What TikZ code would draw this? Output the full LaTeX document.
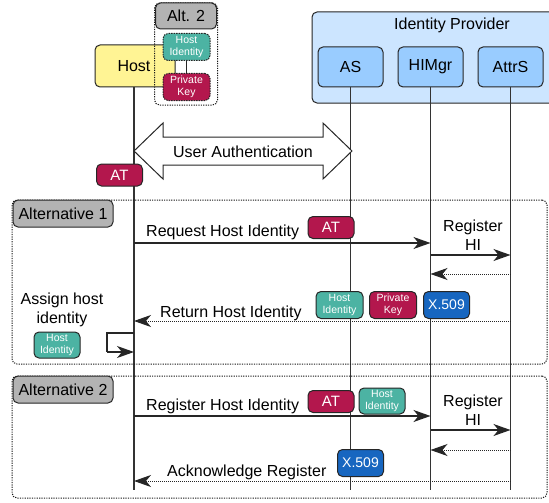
\documentclass[tikz,border=0pt]{standalone}
\usepackage{fontspec}
\setmainfont{Liberation Sans}
\usetikzlibrary{arrows.meta}
\definecolor{hostyellow}{HTML}{FFF494}
\definecolor{hiteal}{HTML}{4CB3A3}
\definecolor{pkred}{HTML}{B3174D}
\definecolor{xblue}{HTML}{1766C0}
\definecolor{altgray}{HTML}{B3B3B3}
\definecolor{idpbg}{HTML}{CCE5FF}
\definecolor{idpbox}{HTML}{99CCFF}
\tikzset{
  >={Stealth[length=17pt,width=12pt,inset=5pt]},
  box/.style={draw=black!85, line width=1pt, rounded corners=5pt, align=center, inner sep=0pt},
  bigtxt/.style={font=\fontsize{16}{19}\selectfont},
  actor/.style={box, bigtxt, fill=idpbox, minimum width=65pt, minimum height=40pt},
  hibox/.style={box, fill=hiteal, text=white, font=\fontsize{10.5}{12}\selectfont, minimum width=47pt, minimum height=27pt},
  pkbox/.style={box, fill=pkred, text=white, font=\fontsize{10.5}{12}\selectfont, minimum width=47pt, minimum height=27pt},
  atbox/.style={box, fill=pkred, text=white, font=\fontsize{15}{18}\selectfont, minimum width=46pt, minimum height=22pt},
  xbox/.style={box, fill=xblue, text=white, font=\fontsize{14}{17}\selectfont, minimum width=46pt, minimum height=27pt},
  header/.style={box, fill=altgray, bigtxt, minimum width=100pt, minimum height=27pt},
  frame/.style={draw=black!90, line width=1pt, dash pattern=on 1.2pt off 1.2pt, rounded corners=5pt, inner sep=0pt},
  life/.style={draw=black!80, line width=1.2pt},
  msg/.style={draw=black!85, line width=1.3pt, ->},
  ret/.style={draw=black!85, line width=1pt, dash pattern=on 1pt off 1pt, ->},
  lbl/.style={bigtxt, inner sep=0pt, anchor=base west},
  twoline/.style={bigtxt, inner sep=0pt, align=center},
}
\begin{document}
\begin{tikzpicture}[x=1pt,y=-1pt]
\useasboundingbox (0,0) rectangle (549,503);
% Identity provider
\node[box, fill=idpbg, minimum width=280pt, minimum height=91pt] (idpbox) at (452,57.5) {};
\node[bigtxt, inner sep=0pt] (idp) at (452,25) {Identity Provider};
\node[actor] (as) at (350.5,67) {AS};
\node[actor] (himgr) at (430.5,67) {HIMgr};
\node[actor] (attrs) at (510.5,67) {AttrS};
% Host
\node[box, bigtxt, fill=hostyellow, minimum width=80pt, minimum height=42pt] (host) at (135,66) {\hspace*{-2pt}Host};
% lifelines
\coordinate (hostend) at (134,490);
\coordinate (asend) at (350.5,490);
\coordinate (himend) at (430.5,490);
\coordinate (attrend) at (510.5,490);
\draw[life] (host.south -| hostend) -- (hostend);
\draw[life] (as.south) -- (asend);
\draw[life] (himgr.south) -- (himend);
\draw[life] (attrs.south) -- (attrend);
% Alt 2 top
\node[frame, minimum width=63pt, minimum height=102pt] (alt2frame) at (186,54) {};
\node[box, fill=altgray, bigtxt, minimum width=61pt, minimum height=26pt] (alt2h) at (186,16) {Alt. 2};
\node[hibox, dash pattern=on 1.5pt off 1pt] (hitop) at (186.5,47) {Host\\Identity};
\node[pkbox, dash pattern=on 1.5pt off 1pt] (pktop) at (186.5,87) {Private\\Key};
\draw[draw=black!85, line width=1pt] (hitop.south) -- (pktop.north);
% User authentication
\draw[draw=black!85, line width=1pt, fill=white, line join=miter]
  (134,151) -- (163,123) -- (163,137) -- (323,137) -- (323,123) -- (352,151)
  -- (323,179) -- (323,165) -- (163,165) -- (163,179) -- cycle;
\node[bigtxt, inner sep=0pt] (ua) at (243,152) {User Authentication};
\node[atbox] (at0) at (119.5,175) {AT};
% Alternative 1
\node[frame, minimum width=535pt, minimum height=164pt] (alt1) at (279.5,282) {};
\node[header] (alt1h) at (63,213.5) {Alternative 1};
\coordinate (r1a) at (134,243); \coordinate (r1b) at (430.5,243);
\draw[msg] (r1a) -- (r1b);
\node[lbl] (r1t) at (146,236) {Request Host Identity};
\node[atbox] (at1) at (331,227.5) {AT};
\node[twoline] (reg1) at (473,235.5) {Register\\HI};
\coordinate (g1a) at (430.5,255); \coordinate (g1b) at (510.5,255);
\draw[msg] (g1a) -- (g1b);
\coordinate (b1a) at (510.5,274); \coordinate (b1b) at (430.5,274);
\draw[ret] (b1a) -- (b1b);
\coordinate (rt1a) at (510.5,321); \coordinate (rt1b) at (134,321);
\draw[ret] (rt1a) -- (rt1b);
\node[lbl] (rtt) at (160,317) {Return Host Identity};
\node[hibox] (hi1) at (339.5,305) {Host\\Identity};
\node[pkbox] (pk1) at (393,305) {Private\\Key};
\node[xbox] (x1) at (446.5,305) {X.509};
\node[twoline] (assign) at (62,309.5) {Assign host\\identity};
\node[hibox, minimum width=46pt, minimum height=26pt] (hi2) at (57,345) {Host\\Identity};
\coordinate (sa) at (134,333); \coordinate (sb) at (107,333);
\coordinate (sc) at (107,352); \coordinate (sd) at (134,352);
\draw[draw=black!85, line width=1.2pt] (sa) -- (sb) -- (sc);
\draw[msg] (sc) -- (sd);
% Alternative 2
\node[frame, minimum width=535pt, minimum height=122pt] (alt2) at (279.5,437) {};
\node[header] (alt2hh) at (63,389.5) {Alternative 2};
\coordinate (r2a) at (134,416); \coordinate (r2b) at (430.5,416);
\draw[msg] (r2a) -- (r2b);
\node[lbl] (r2t) at (146,410) {Register Host Identity};
\node[atbox] (at2) at (331,401.5) {AT};
\node[hibox, minimum width=46pt, minimum height=26pt] (hi3) at (382,401) {Host\\Identity};
\node[twoline] (reg2) at (473,410) {Register\\HI};
\coordinate (g2a) at (430.5,430); \coordinate (g2b) at (510.5,430);
\draw[msg] (g2a) -- (g2b);
\coordinate (b2a) at (510.5,450); \coordinate (b2b) at (430.5,450);
\draw[ret] (b2a) -- (b2b);
\coordinate (k2a) at (510.5,481); \coordinate (k2b) at (134,481);
\draw[ret] (k2a) -- (k2b);
\node[lbl] (ackt) at (167,476) {Acknowledge Register};
\node[xbox] (x2) at (360.5,463) {X.509};
\end{tikzpicture}
\end{document}
